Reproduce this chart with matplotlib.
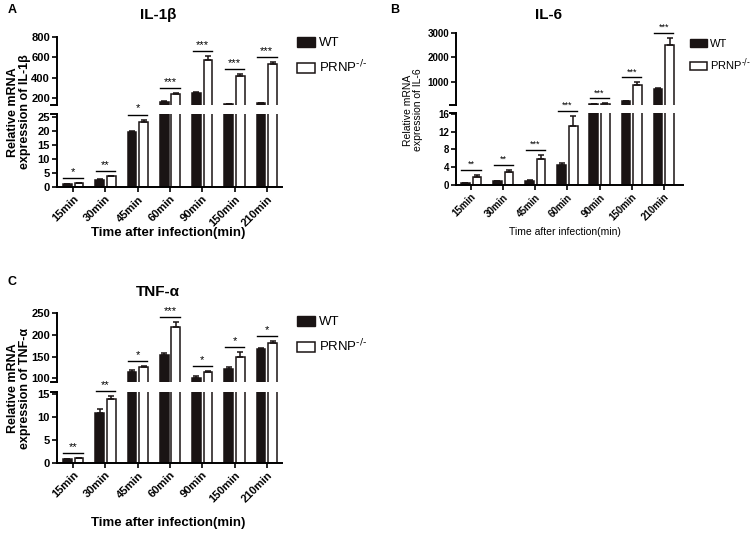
import numpy as np
import matplotlib
matplotlib.use('Agg')
import matplotlib.pyplot as plt
from matplotlib.patches import Patch
from matplotlib.transforms import ScaledTranslation

plt.rcParams['font.family'] = ['Liberation Sans', 'DejaVu Sans']

times = ['15min', '30min', '45min', '60min', '90min', '150min', '210min']

# IL-1b
wt_a = [1.0, 2.5, 19.5, 160, 245, 140, 150]
wt_a_err = [0.1, 0.2, 0.5, 8, 15, 5, 5]
ko_a = [1.3, 3.8, 23.3, 240, 575, 420, 530]
ko_a_err = [0.1, 0.2, 0.8, 8, 35, 15, 25]
sig_a = ['*', '**', '*', '***', '***', '***', '***']

# IL-6
wt_b = [0.5, 0.9, 1.0, 4.4, 90, 230, 710]
wt_b_err = [0.05, 0.1, 0.15, 0.5, 5, 10, 25]
ko_b = [1.8, 3.0, 5.8, 13.2, 120, 860, 2500]
ko_b_err = [0.4, 0.4, 0.9, 2.4, 10, 120, 300]
sig_b = ['**', '**', '***', '***', '***', '***', '***']

# TNF-a
wt_c = [0.9, 10.8, 115, 153, 100, 122, 167]
wt_c_err = [0.05, 0.9, 4, 4, 5, 5, 2]
ko_c = [1.05, 14.0, 127, 218, 114, 148, 182]
ko_c_err = [0.05, 0.5, 2, 11, 2, 13, 4]
sig_c = ['**', '**', '*', '***', '*', '*', '*']

W, H = 752, 533
fig = plt.figure(figsize=(W / 100, H / 100), dpi=100)
DARK = '#1a1414'


def px_axes(x0, y0, x1, y1):
    return fig.add_axes([x0 / W, 1 - y1 / H, (x1 - x0) / W, (y1 - y0) / H])


def draw_bars(ax, x, vals, errs, lo, face):
    vals = np.asarray(vals, float)
    errs = np.asarray(errs, float)
    keep = vals > lo
    ax.bar(x[keep], vals[keep], 0.27, color=face, edgecolor=DARK, lw=1.1,
           yerr=[np.zeros(keep.sum()), errs[keep]], capsize=2.5,
           error_kw=dict(lw=1.1, capthick=1.1, ecolor=DARK))


def panel(xr, top_px, bot_px, top_lim, bot_lim, top_ticks, bot_ticks,
          wt, wt_err, ko, ko_err, sig, xlim, fs, sfs):
    ax_t = px_axes(xr[0], top_px[0], xr[1], top_px[1])
    ax_b = px_axes(xr[0], bot_px[0], xr[1], bot_px[1])
    x = np.arange(len(times))
    d = 0.18
    for ax, lo in ((ax_t, top_lim[0]), (ax_b, -1)):
        draw_bars(ax, x - d, wt, wt_err, lo, DARK)
        draw_bars(ax, x + d, ko, ko_err, lo, 'white')
        ax.set_xlim(*xlim)
        for s in ('top', 'right'):
            ax.spines[s].set_visible(False)
        ax.spines['left'].set_linewidth(1.4)
        ax.spines['bottom'].set_linewidth(1.4)
        ax.tick_params(width=1.2, length=3.5, pad=1.5, labelsize=fs)
    ax_t.set_ylim(*top_lim)
    ax_b.set_ylim(*bot_lim)
    ax_t.spines['bottom'].set_visible(False)
    ax_t.set_xticks([])
    ax_t.set_yticks(top_ticks)
    ax_b.set_yticks(bot_ticks)
    ax_t.set_yticklabels([str(t) for t in top_ticks], fontweight='bold', fontsize=fs)
    ax_b.set_yticklabels([str(t) for t in bot_ticks], fontweight='bold', fontsize=fs)
    ax_b.set_xticks(x)
    ax_b.set_xticklabels(times, rotation=45, ha='right', rotation_mode='anchor',
                         fontweight='bold', fontsize=fs)
    # break marks
    for ax, yy in ((ax_t, 0), (ax_b, 1)):
        ax.plot([-0.025, 0.0], [yy, yy], transform=ax.transAxes, color='black',
                lw=1.4, clip_on=False)
    # significance
    off1 = ScaledTranslation(0, 0.05, fig.dpi_scale_trans)
    off2 = ScaledTranslation(0, 0.06, fig.dpi_scale_trans)
    for i in range(len(times)):
        top = max(wt[i] + wt_err[i], ko[i] + ko_err[i])
        ax = ax_b if top <= bot_lim[1] else ax_t
        ax.plot([i - 0.3, i + 0.3], [top, top], color='black', lw=1.0,
                transform=ax.transData + off1, clip_on=False)
        ax.text(i, top, sig[i], ha='center', va='bottom', fontsize=sfs,
                transform=ax.transData + off2, clip_on=False)
    return ax_t, ax_b


panel((57, 282), (37, 105), (114, 187), (131, 800), (0, 26.07),
      [200, 400, 600, 800], [0, 5, 10, 15, 20, 25],
      wt_a, wt_a_err, ko_a, ko_a_err, sig_a, (-0.5, 6.47), 8, 8)
panel((456, 683), (33, 105), (113, 185), (61, 3000), (0, 16.2),
      [1000, 2000, 3000], [0, 4, 8, 12, 16],
      wt_b, wt_b_err, ko_b, ko_b_err, sig_b, (-0.47, 6.6), 7, 6.5)
panel((57, 282), (313, 382), (392, 463), (91.5, 250), (0, 15.43),
      [100, 150, 200, 250], [0, 5, 10, 15],
      wt_c, wt_c_err, ko_c, ko_c_err, sig_c, (-0.5, 6.47), 8, 8)

# titles, panel letters, labels
fig.text(158 / W, 1 - 15 / H, 'IL-1β', ha='center', va='center', fontsize=11, fontweight='bold')
fig.text(548 / W, 1 - 15 / H, 'IL-6', ha='center', va='center', fontsize=11, fontweight='bold')
fig.text(158 / W, 1 - 292 / H, 'TNF-α', ha='center', va='center', fontsize=11, fontweight='bold')
fig.text(8 / W, 1 - 10 / H, 'A', ha='left', va='center', fontsize=9, fontweight='bold')
fig.text(390 / W, 1 - 10 / H, 'B', ha='left', va='center', fontsize=9, fontweight='bold')
fig.text(8 / W, 1 - 282 / H, 'C', ha='left', va='center', fontsize=9, fontweight='bold')

fig.text(19 / W, 1 - 112 / H, 'Relative mRNA\nexpression of IL-1β', rotation=90,
         ha='center', va='center', fontsize=9, fontweight='bold', linespacing=1.1)
fig.text(413 / W, 1 - 110 / H, 'Relative mRNA\nexpression of IL-6', rotation=90,
         ha='center', va='center', fontsize=7.5, linespacing=1.1)
fig.text(19 / W, 1 - 388 / H, 'Relative mRNA\nexpression of TNF-α', rotation=90,
         ha='center', va='center', fontsize=9, fontweight='bold', linespacing=1.1)

fig.text(168 / W, 1 - 233 / H, 'Time after infection(min)', ha='center', va='center',
         fontsize=9.5, fontweight='bold')
fig.text(565 / W, 1 - 232 / H, 'Time after infection(min)', ha='center', va='center',
         fontsize=7.5)
fig.text(168 / W, 1 - 523 / H, 'Time after infection(min)', ha='center', va='center',
         fontsize=9.5, fontweight='bold')

handles = [Patch(facecolor=DARK, edgecolor=DARK),
           Patch(facecolor='white', edgecolor=DARK, lw=1.1)]
labels = ['WT', r'PRNP$^{\text{-/-}}$']
for lx, ly, lfs, hl in ((297, 37, 9.5, 1.4), (690, 39, 8, 1.5), (297, 316, 9.5, 1.4)):
    fig.legend(handles, labels, loc='upper left', bbox_to_anchor=(lx / W, 1 - ly / H),
               frameon=False, handlelength=hl, handleheight=0.75, fontsize=lfs,
               labelspacing=0.7, borderaxespad=0, borderpad=0, handletextpad=0.3)

fig.savefig('out.png', dpi=100)
